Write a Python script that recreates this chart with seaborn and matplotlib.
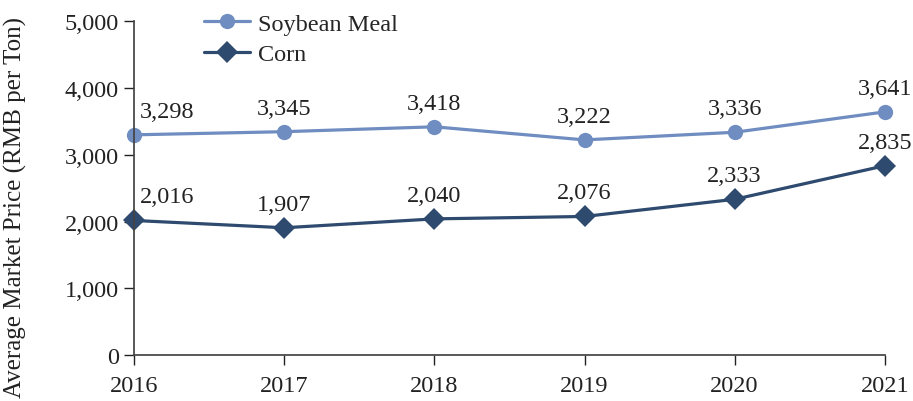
import matplotlib.pyplot as plt
import pandas as pd
import seaborn as sns

years = [2016, 2017, 2018, 2019, 2020, 2021]
soybean_meal = [3298, 3345, 3418, 3222, 3336, 3641]
corn = [2016, 1907, 2040, 2076, 2333, 2835]
y_ticks = [0, 1000, 2000, 3000, 4000, 5000]

df = pd.DataFrame({
    "Year": years * 2,
    "Price": soybean_meal + corn,
    "Series": ["Soybean Meal"] * len(years) + ["Corn"] * len(years),
})

sns.set_theme(style="ticks")
plt.rcParams["font.family"] = ["Liberation Serif", "DejaVu Serif"]

colors = {"Soybean Meal": "#6F8DC0", "Corn": "#2E4A6E"}
txt = "#222222"

fig, ax = plt.subplots(figsize=(9.13, 4.02), dpi=100)
fig.subplots_adjust(left=0.147, right=0.969, bottom=0.114, top=0.945)

sns.lineplot(data=df, x="Year", y="Price", hue="Series", style="Series",
             markers={"Soybean Meal": "o", "Corn": "D"}, dashes=False,
             palette=colors, linewidth=2.3, markersize=11, markeredgewidth=0,
             ax=ax, clip_on=False)

# value labels above each point (first year nudged right of the axis)
for vals in [soybean_meal, corn]:
    for i, (x, v) in enumerate(zip(years, vals)):
        dx = 33 if i == 0 else 0
        ax.annotate(f"{v:,}", (x, v), textcoords="offset pixels", xytext=(dx, 18),
                    ha="center", va="baseline", fontsize=17.5, color=txt)

ax.set_xlim(2016, 2021)
ax.set_ylim(0, 5000)
ax.set_xticks(years)
ax.set_yticks(y_ticks, [f"{t:,}" for t in y_ticks])
ax.tick_params(labelsize=17.5, colors=txt, length=7, width=1)
ax.tick_params(axis="x", pad=7)
ax.tick_params(axis="y", pad=4)
ax.set_xlabel("")
ax.set_ylabel("Average Market Price (RMB per Ton)", fontsize=18, color=txt)
ax.yaxis.set_label_coords(-0.143, 0.446)
sns.despine(ax=ax)
for sp in ["left", "bottom"]:
    ax.spines[sp].set_color("#444444")

ax.legend(title=None, frameon=False, loc="upper left", bbox_to_anchor=(0.064, 1.09),
          fontsize=17.5, handlelength=1.9, handletextpad=0.3, labelspacing=0.35)

fig.savefig("out.png")
